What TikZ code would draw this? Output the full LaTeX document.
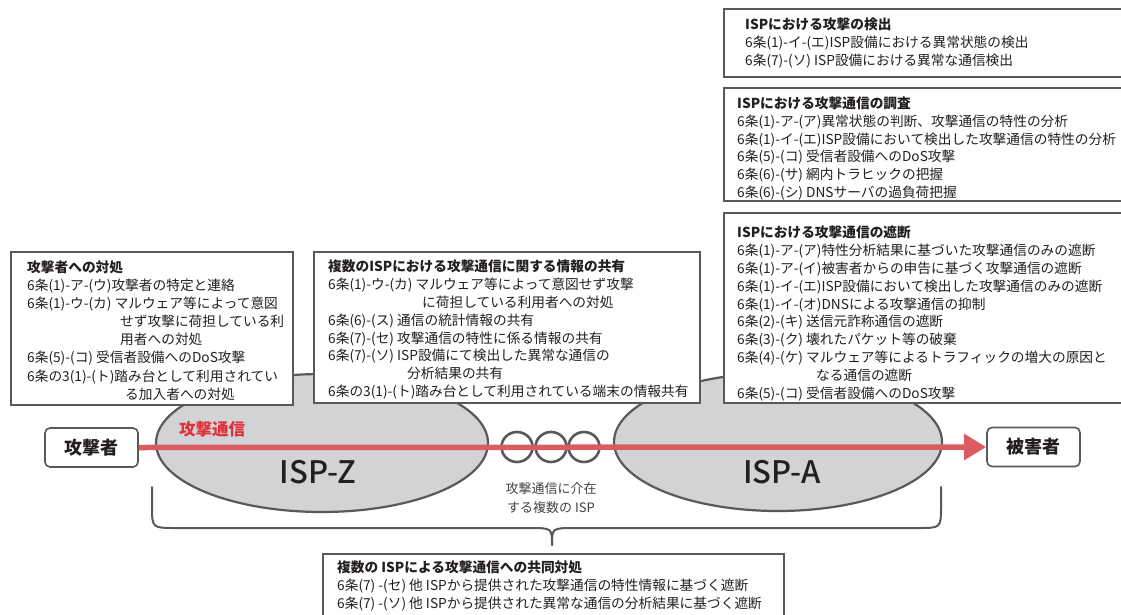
\documentclass[tikz,border=0pt]{standalone}
\usepackage{fontspec}
\setmainfont{Noto Sans CJK JP}
\newfontfamily\ispfont{Noto Sans CJK JP Medium}
\usetikzlibrary{arrows.meta,shapes.geometric}
\definecolor{edge}{HTML}{58595B}
\definecolor{ispfill}{HTML}{D1D3D4}
\definecolor{arrowred}{HTML}{DB5B63}
\definecolor{labelred}{HTML}{E0313B}
\definecolor{ink}{HTML}{231F20}
\tikzset{
  isp/.style={ellipse, draw=edge, fill=ispfill, line width=2.2pt, inner sep=0pt},
  ring/.style={ellipse, draw=edge, fill=white, line width=2.6pt, inner sep=0pt, minimum width=31pt, minimum height=30pt},
  frame/.style={draw=edge, fill=white, line width=2pt},
  txt/.style={anchor=north west, inner sep=0pt, align=left, text=ink, font=\fontsize{13.7}{17.8}\selectfont},
  actor/.style={draw=edge, fill=white, rounded corners=5pt, line width=1.6pt, inner sep=0pt, minimum width=93pt, minimum height=39pt, text=ink, font=\fontsize{18}{20}\selectfont\bfseries},
  bigisp/.style={inner sep=0pt, text=ink, font=\ispfont\fontsize{31}{33}\selectfont},
  redarrow/.style={draw=arrowred, line width=5.5pt, -{Triangle[length=22pt,width=25pt]}},
  bracket/.style={draw=edge, line width=2pt, line cap=round},
}
\begin{document}
\begin{tikzpicture}[x=1pt,y=-1pt]
\useasboundingbox (0,0) rectangle (1121,615);
% ISP ellipses
\node[isp, minimum width=332pt, minimum height=138pt] (ispz) at (322,443) {};
\node[isp, minimum width=328pt, minimum height=138pt] (ispa) at (778,442) {};
% rings
\node[ring] (r1) at (517,447) {};
\node[ring] (r2) at (551,447) {};
\node[ring] (r3) at (584,447) {};
% boxes
\draw[frame] (11,252) rectangle (293,405);
\draw[frame] (314,252) rectangle (700,403);
\draw[frame] (724,9) rectangle (1140,77);
\draw[frame] (724,88) rectangle (1140,201);
\draw[frame] (724,213) rectangle (1140,403);
\draw[frame] (323,554) rectangle (784,616);
% box texts
\node[txt, font=\fontsize{13.7}{18.1}\selectfont] (tleft) at (27,260.5) {\textbf{攻撃者への対処}\\
6条(1)-ア-(ウ)攻撃者の特定と連絡\\
6条(1)-ウ-(カ) マルウェア等によって意図\\
\hspace*{93pt}せず攻撃に荷担している利\\
\hspace*{93pt}用者への対処\\
6条(5)-(コ) 受信者設備へのDoS攻撃\\
6条の3(1)-(ト)踏み台として利用されてい\\
\hspace*{98pt}る加入者への対処};
\node[txt] (tmid) at (328,260) {\textbf{複数のISPにおける攻撃通信に関する情報の共有}\\
6条(1)-ウ-(カ) マルウェア等によって意図せず攻撃\\
\hspace*{94pt}に荷担している利用者への対処\\
6条(6)-(ス) 通信の統計情報の共有\\
6条(7)-(セ) 攻撃通信の特性に係る情報の共有\\
6条(7)-(ソ) ISP設備にて検出した異常な通信の\\
\hspace*{79pt}分析結果の共有\\
6条の3(1)-(ト)踏み台として利用されている端末の情報共有};
\node[txt] (tdet) at (745,18) {\textbf{ISPにおける攻撃の検出}\\
6条(1)-イ-(エ)ISP設備における異常状態の検出\\
6条(7)-(ソ) ISP設備における異常な通信検出};
\node[txt] (tinv) at (737,96.5) {\textbf{ISPにおける攻撃通信の調査}\\
6条(1)-ア-(ア)異常状態の判断、攻撃通信の特性の分析\\
6条(1)-イ-(エ)ISP設備において検出した攻撃通信の特性の分析\\
6条(5)-(コ) 受信者設備へのDoS攻撃\\
6条(6)-(サ) 網内トラヒックの把握\\
6条(6)-(シ) DNSサーバの過負荷把握};
\node[txt] (tblk) at (737,226) {\textbf{ISPにおける攻撃通信の遮断}\\
6条(1)-ア-(ア)特性分析結果に基づいた攻撃通信のみの遮断\\
6条(1)-ア-(イ)被害者からの申告に基づく攻撃通信の遮断\\
6条(1)-イ-(エ)ISP設備において検出した攻撃通信のみの遮断\\
6条(1)-イ-(オ)DNSによる攻撃通信の抑制\\
6条(2)-(キ) 送信元詐称通信の遮断\\
6条(3)-(ク) 壊れたパケット等の破棄\\
6条(4)-(ケ) マルウェア等によるトラフィックの増大の原因と\\
\hspace*{79pt}なる通信の遮断\\
6条(5)-(コ) 受信者設備へのDoS攻撃};
\node[txt] (tjoint) at (337,561) {\textbf{複数の ISPによる攻撃通信への共同対処}\\
6条(7) -(セ) 他 ISPから提供された攻撃通信の特性情報に基づく遮断\\
6条(7) -(ソ) 他 ISPから提供された異常な通信の分析結果に基づく遮断};
% actors
\node[actor] (att) at (91.5,447.5) {攻撃者};
\node[actor] (vic) at (1033.5,447) {被害者};
% ISP labels
\node[bigisp] (lz) at (318,472) {ISP-Z};
\node[bigisp] (la) at (782,472) {ISP-A};
% attack arrow
\draw[redarrow] (att.east) -- (vic.west);
\node[inner sep=0pt, text=labelred, font=\fontsize{16.5}{18}\selectfont\bfseries] (lred) at (212,429) {攻撃通信};
% middle label
\node[inner sep=0pt, text=ink!85, align=center, font=\fontsize{13}{18.5}\selectfont] (lmid) at (551,498) {攻撃通信に介在\\する複数の ISP};
% brace
\draw[bracket] (152,487) -- (152,506) .. controls (152,528) .. (176,528) -- (529,528) .. controls (552,528) .. (552,545);
\draw[bracket] (552,545) .. controls (552,528) .. (575,528) -- (918,528) .. controls (941,528) .. (941,506) -- (941,487);
\end{tikzpicture}
\end{document}
